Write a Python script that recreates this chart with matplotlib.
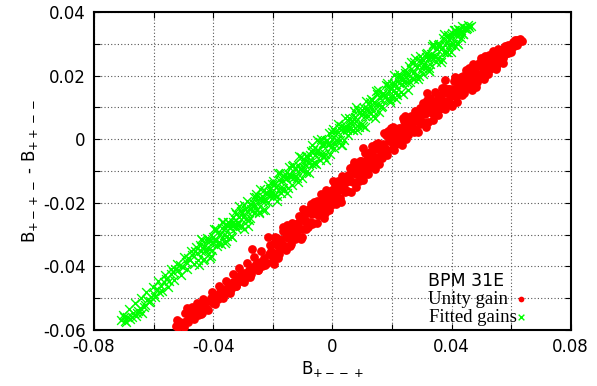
import matplotlib
matplotlib.use('Agg')
import matplotlib.pyplot as plt
from matplotlib.ticker import MultipleLocator

# Unity gain (red dots)
red_x = [
    -0.0525, -0.0518, -0.0510, -0.0505, -0.0498, -0.0490, -0.0480, -0.0475, -0.0468, -0.0460,
    -0.0452, -0.0445, -0.0438, -0.0430, -0.0422, -0.0415, -0.0408, -0.0400, -0.0392, -0.0385,
    -0.0378, -0.0370, -0.0362, -0.0355, -0.0348, -0.0340, -0.0332, -0.0325, -0.0318, -0.0310,
    -0.0302, -0.0295, -0.0288, -0.0280, -0.0272, -0.0265, -0.0258, -0.0250, -0.0242, -0.0235,
    -0.0228, -0.0220, -0.0212, -0.0205, -0.0198, -0.0488, -0.0270, -0.0216,
    -0.0522, -0.0512, -0.0495, -0.0483, -0.0472, -0.0463, -0.0455, -0.0442, -0.0433, -0.0418,
    -0.0405, -0.0395, -0.0382, -0.0368, -0.0358, -0.0345, -0.0335, -0.0322, -0.0312, -0.0298,
    -0.0285, -0.0275, -0.0262, -0.0248, -0.0238, -0.0225, -0.0210,
    -0.0195, -0.0190, -0.0185, -0.0180, -0.0175, -0.0170, -0.0165, -0.0160, -0.0155, -0.0150,
    -0.0145, -0.0140, -0.0135, -0.0130, -0.0125, -0.0120, -0.0115, -0.0110, -0.0105, -0.0100,
    -0.0095, -0.0090, -0.0085, -0.0080, -0.0075, -0.0070, -0.0065, -0.0060, -0.0055, -0.0050,
    -0.0045, -0.0040, -0.0035, -0.0030, -0.0025, -0.0020, -0.0015, -0.0010, -0.0005, 0.0000,
    0.0005, 0.0010, 0.0015, 0.0020, 0.0025, 0.0030, 0.0035, 0.0040, 0.0045, 0.0050,
    0.0055, 0.0060, 0.0065, 0.0070, 0.0075, 0.0080, 0.0085, 0.0090, 0.0095, 0.0100,
    0.0105, 0.0110, 0.0115, 0.0120, 0.0125, 0.0130, 0.0135, 0.0140, 0.0145, 0.0150,
    0.0155, 0.0160, 0.0165, 0.0170, 0.0175, 0.0180, 0.0185, 0.0190, 0.0195, 0.0200,
    0.0205, 0.0210, 0.0215, 0.0220, 0.0225, 0.0230, 0.0235, 0.0240, 0.0245, 0.0250,
    0.0255, 0.0260, 0.0265, 0.0270, 0.0275, 0.0280, 0.0285, 0.0290, 0.0295, 0.0300,
    0.0305, 0.0310, 0.0315, 0.0320, 0.0325, 0.0330, 0.0335, 0.0340, 0.0345, 0.0350,
    0.0355, 0.0360, 0.0365, 0.0370, 0.0375, 0.0380, 0.0385, 0.0390, 0.0395, 0.0400,
    0.0405, 0.0410, 0.0415, 0.0420, 0.0425, 0.0430, 0.0435, 0.0440, 0.0445, 0.0450,
    0.0455, 0.0460, 0.0465, 0.0470, 0.0475, 0.0480, 0.0485, 0.0490, 0.0495, 0.0500,
    0.0505, 0.0510, 0.0515, 0.0520, 0.0525, 0.0530, 0.0535, 0.0540, 0.0545, 0.0550,
    0.0555, 0.0560, 0.0565, 0.0570, 0.0575, 0.0580, 0.0585, 0.0590, 0.0595, 0.0600,
    0.0605, 0.0610, 0.0620, 0.0630, 0.0635,
    0.0102, 0.0317, 0.0377, 0.0572, 0.0102,
    -0.0192, -0.0182, -0.0172, -0.0162, -0.0152, -0.0142, -0.0132, -0.0122, -0.0112, -0.0102,
    -0.0092, -0.0082, -0.0072, -0.0062, -0.0052, -0.0042, -0.0032, -0.0022, -0.0012, -0.0002,
    0.0008, 0.0018, 0.0028, 0.0038, 0.0048, 0.0058, 0.0068, 0.0078, 0.0088, 0.0098,
    0.0108, 0.0118, 0.0128, 0.0138, 0.0148, 0.0158, 0.0168, 0.0178, 0.0188, 0.0198,
    0.0208, 0.0218, 0.0228, 0.0238, 0.0248, 0.0258, 0.0268, 0.0278, 0.0288, 0.0298,
    0.0308, 0.0318, 0.0328, 0.0338, 0.0348, 0.0358, 0.0368, 0.0378, 0.0388, 0.0398,
    0.0408, 0.0418, 0.0428, 0.0438, 0.0448, 0.0458, 0.0468, 0.0478, 0.0488, 0.0498,
    0.0508, 0.0518, 0.0528, 0.0538, 0.0548, 0.0558, 0.0568, 0.0578, 0.0588, 0.0598,
    0.0608, 0.0618,
    -0.0197, -0.0187, -0.0177, -0.0167, -0.0157, -0.0147, -0.0137, -0.0127, -0.0117, -0.0107,
    -0.0097, -0.0087, -0.0077, -0.0067, -0.0057, -0.0047, -0.0037, -0.0027, -0.0017, -0.0007,
    0.0003, 0.0013, 0.0023, 0.0033, 0.0043, 0.0053, 0.0063, 0.0073, 0.0083, 0.0093,
    0.0103, 0.0113, 0.0123, 0.0133, 0.0143, 0.0153, 0.0163, 0.0173, 0.0183, 0.0193,
    0.0203, 0.0213, 0.0223, 0.0233, 0.0243, 0.0253, 0.0263, 0.0273, 0.0283, 0.0293,
    0.0303, 0.0313, 0.0323, 0.0333, 0.0343, 0.0353, 0.0363, 0.0373, 0.0383, 0.0393,
    0.0403, 0.0413, 0.0423, 0.0433, 0.0443, 0.0453, 0.0463, 0.0473, 0.0483, 0.0493,
    0.0503, 0.0513, 0.0523, 0.0533, 0.0543, 0.0553, 0.0563, 0.0573, 0.0583, 0.0593,
    0.0603, 0.0613, 0.0625,
]
red_y = [
    -0.0588, -0.0590, -0.0585, -0.0578, -0.0590, -0.0572, -0.0560, -0.0548, -0.0558, -0.0540,
    -0.0552, -0.0530, -0.0545, -0.0520, -0.0535, -0.0510, -0.0498, -0.0515, -0.0490, -0.0502,
    -0.0482, -0.0470, -0.0488, -0.0468, -0.0455, -0.0472, -0.0450, -0.0462, -0.0440, -0.0428,
    -0.0445, -0.0420, -0.0432, -0.0410, -0.0425, -0.0402, -0.0392, -0.0412, -0.0385, -0.0398,
    -0.0372, -0.0388, -0.0360, -0.0352, -0.0372, -0.0530, -0.0345, -0.0308,
    -0.0570, -0.0575, -0.0547, -0.0575, -0.0529, -0.0565, -0.0515, -0.0549, -0.0501, -0.0537,
    -0.0481, -0.0519, -0.0462, -0.0500, -0.0447, -0.0484, -0.0425, -0.0462, -0.0406, -0.0448,
    -0.0389, -0.0432, -0.0370, -0.0411, -0.0350, -0.0397, -0.0332,
    -0.0325, -0.0357, -0.0333, -0.0361, -0.0317, -0.0331, -0.0290, -0.0335, -0.0304, -0.0310,
    -0.0286, -0.0331, -0.0270, -0.0301, -0.0285, -0.0305, -0.0264, -0.0281, -0.0241, -0.0281,
    -0.0255, -0.0283, -0.0233, -0.0227, -0.0259, -0.0236, -0.0263, -0.0219, -0.0233, -0.0193,
    -0.0237, -0.0206, -0.0212, -0.0189, -0.0233, -0.0172, -0.0203, -0.0188, -0.0207, -0.0166,
    -0.0183, -0.0143, -0.0183, -0.0156, -0.0184, -0.0134, -0.0128, -0.0159, -0.0136, -0.0163,
    -0.0119, -0.0132, -0.0092, -0.0136, -0.0105, -0.0110, -0.0087, -0.0131, -0.0070, -0.0100,
    -0.0085, -0.0104, -0.0063, -0.0079, -0.0040, -0.0079, -0.0053, -0.0080, -0.0031, -0.0024,
    -0.0056, -0.0032, -0.0060, -0.0015, -0.0029, 0.0012, -0.0033, -0.0001, -0.0007, 0.0017,
    -0.0028, 0.0032, 0.0001, 0.0016, -0.0005, 0.0036, 0.0018, 0.0057, 0.0017, 0.0042,
    0.0014, 0.0063, 0.0068, 0.0036, 0.0058, 0.0030, 0.0074, 0.0059, 0.0099, 0.0054,
    0.0084, 0.0078, 0.0100, 0.0055, 0.0116, 0.0084, 0.0099, 0.0079, 0.0119, 0.0102,
    0.0140, 0.0100, 0.0126, 0.0097, 0.0146, 0.0152, 0.0119, 0.0142, 0.0113, 0.0157,
    0.0143, 0.0182, 0.0137, 0.0168, 0.0161, 0.0184, 0.0138, 0.0199, 0.0168, 0.0182,
    0.0162, 0.0203, 0.0185, 0.0224, 0.0183, 0.0209, 0.0181, 0.0229, 0.0235, 0.0203,
    0.0225, 0.0197, 0.0240, 0.0226, 0.0266, 0.0220, 0.0251, 0.0245, 0.0267, 0.0222,
    0.0282, 0.0251, 0.0266, 0.0245, 0.0286, 0.0269, 0.0294, 0.0271, 0.0294, 0.0285,
    0.0306, 0.0294, 0.0311, 0.0316, 0.0309,
    -0.0028, 0.0145, 0.0186, 0.0240, -0.0128,
    -0.0307, -0.0374, -0.0316, -0.0338, -0.0269, -0.0335, -0.0270, -0.0293, -0.0242, -0.0308,
    -0.0253, -0.0277, -0.0203, -0.0197, -0.0263, -0.0206, -0.0227, -0.0159, -0.0224, -0.0160,
    -0.0182, -0.0131, -0.0196, -0.0141, -0.0164, -0.0090, -0.0083, -0.0149, -0.0091, -0.0112,
    -0.0043, -0.0108, -0.0043, -0.0065, -0.0014, -0.0079, -0.0024, -0.0047, 0.0027, 0.0034,
    -0.0033, 0.0023, 0.0000, 0.0068, 0.0001, 0.0064, 0.0040, 0.0090, 0.0023, 0.0076,
    0.0051, 0.0124, 0.0129, 0.0061, 0.0117, 0.0095, 0.0162, 0.0095, 0.0158, 0.0135,
    0.0184, 0.0117, 0.0170, 0.0146, 0.0218, 0.0223, 0.0155, 0.0212, 0.0189, 0.0256,
    0.0189, 0.0253, 0.0229, 0.0278, 0.0227, 0.0265, 0.0250, 0.0294, 0.0297, 0.0274,
    0.0306, 0.0295,
    -0.0391, -0.0310, -0.0343, -0.0277, -0.0349, -0.0305, -0.0262, -0.0313, -0.0262, -0.0313,
    -0.0221, -0.0259, -0.0220, -0.0267, -0.0218, -0.0239, -0.0173, -0.0247, -0.0166, -0.0199,
    -0.0132, -0.0204, -0.0159, -0.0115, -0.0166, -0.0114, -0.0165, -0.0072, -0.0110, -0.0070,
    -0.0117, -0.0067, -0.0088, -0.0021, -0.0095, -0.0013, -0.0046, 0.0021, -0.0051, -0.0006,
    0.0037, -0.0016, 0.0035, -0.0018, 0.0073, 0.0033, 0.0072, 0.0023, 0.0071, 0.0048,
    0.0114, 0.0038, 0.0118, 0.0083, 0.0149, 0.0075, 0.0118, 0.0160, 0.0108, 0.0158,
    0.0105, 0.0196, 0.0157, 0.0195, 0.0146, 0.0194, 0.0172, 0.0237, 0.0165, 0.0241,
    0.0207, 0.0262, 0.0204, 0.0241, 0.0274, 0.0236, 0.0281, 0.0255, 0.0290, 0.0275,
    0.0300, 0.0313, 0.0308,
]

# Fitted gains (green crosses)
green_x = [
    -0.0708, -0.0700, -0.0695, -0.0688, -0.0680, -0.0668, -0.0660, -0.0652, -0.0645, -0.0640,
    -0.0630, -0.0622, -0.0615, -0.0608, -0.0598, -0.0590, -0.0582, -0.0575, -0.0565, -0.0558,
    -0.0550, -0.0543, -0.0535, -0.0527, -0.0518, -0.0510, -0.0500, -0.0492, -0.0485, -0.0478,
    -0.0470, -0.0462, -0.0455,
    -0.0703, -0.0692, -0.0684, -0.0672, -0.0663, -0.0655, -0.0643, -0.0633, -0.0625, -0.0612,
    -0.0603, -0.0594, -0.0585, -0.0572, -0.0562, -0.0553, -0.0540, -0.0530, -0.0522, -0.0507,
    -0.0497, -0.0488, -0.0474, -0.0466, -0.0458,
    -0.0450, -0.0445, -0.0440, -0.0435, -0.0430, -0.0425, -0.0420, -0.0415, -0.0410, -0.0405,
    -0.0400, -0.0395, -0.0390, -0.0385, -0.0380, -0.0375, -0.0370, -0.0365, -0.0360, -0.0355,
    -0.0350, -0.0345, -0.0340, -0.0335, -0.0330, -0.0325, -0.0320, -0.0315, -0.0310, -0.0305,
    -0.0300, -0.0295, -0.0290, -0.0285, -0.0280, -0.0275, -0.0270, -0.0265, -0.0260, -0.0255,
    -0.0250, -0.0245, -0.0240, -0.0235, -0.0230, -0.0225, -0.0220, -0.0215, -0.0210, -0.0205,
    -0.0200, -0.0195, -0.0190, -0.0185, -0.0180, -0.0175, -0.0170, -0.0165, -0.0160, -0.0155,
    -0.0150, -0.0145, -0.0140, -0.0135, -0.0130, -0.0125, -0.0120, -0.0115, -0.0110, -0.0105,
    -0.0100, -0.0095, -0.0090, -0.0085, -0.0080, -0.0075, -0.0070, -0.0065, -0.0060, -0.0055,
    -0.0050, -0.0045, -0.0040, -0.0035, -0.0030, -0.0025, -0.0020, -0.0015, -0.0010, -0.0005,
    0.0000, 0.0005, 0.0010, 0.0015, 0.0020, 0.0025, 0.0030, 0.0035, 0.0040, 0.0045,
    0.0050, 0.0055, 0.0060, 0.0065, 0.0070, 0.0075, 0.0080, 0.0085, 0.0090, 0.0095,
    0.0100, 0.0105, 0.0110, 0.0115, 0.0120, 0.0125, 0.0130, 0.0135, 0.0140, 0.0145,
    0.0150, 0.0155, 0.0160, 0.0165, 0.0170, 0.0175, 0.0180, 0.0185, 0.0190, 0.0195,
    0.0200, 0.0205, 0.0210, 0.0215, 0.0220, 0.0225, 0.0230, 0.0235, 0.0240, 0.0245,
    0.0250, 0.0255, 0.0260, 0.0265, 0.0270, 0.0275, 0.0280, 0.0285, 0.0290, 0.0295,
    0.0300, 0.0305, 0.0310, 0.0315, 0.0320, 0.0325, 0.0330, 0.0335, 0.0340, 0.0345,
    0.0350, 0.0355, 0.0360, 0.0365, 0.0370, 0.0375, 0.0380, 0.0385, 0.0390, 0.0395,
    0.0400, 0.0405, 0.0410, 0.0415, 0.0420, 0.0425, 0.0430, 0.0435, 0.0440, 0.0445,
    0.0450, 0.0460, 0.0465,
    0.0398, 0.0324,
    -0.0447, -0.0437, -0.0427, -0.0417, -0.0407, -0.0397, -0.0387, -0.0377, -0.0367, -0.0357,
    -0.0347, -0.0337, -0.0327, -0.0317, -0.0307, -0.0297, -0.0287, -0.0277, -0.0267, -0.0257,
    -0.0247, -0.0237, -0.0227, -0.0217, -0.0207, -0.0197, -0.0187, -0.0177, -0.0167, -0.0157,
    -0.0147, -0.0137, -0.0127, -0.0117, -0.0107, -0.0097, -0.0087, -0.0077, -0.0067, -0.0057,
    -0.0047, -0.0037, -0.0027, -0.0017, -0.0007, 0.0003, 0.0013, 0.0023, 0.0033, 0.0043,
    0.0053, 0.0063, 0.0073, 0.0083, 0.0093, 0.0103, 0.0113, 0.0123, 0.0133, 0.0143,
    0.0153, 0.0163, 0.0173, 0.0183, 0.0193, 0.0203, 0.0213, 0.0223, 0.0233, 0.0243,
    0.0253, 0.0263, 0.0273, 0.0283, 0.0293, 0.0303, 0.0313, 0.0323, 0.0333, 0.0343,
    0.0353, 0.0363, 0.0373, 0.0383, 0.0393, 0.0403, 0.0413, 0.0423, 0.0433, 0.0443,
    0.0453,
    -0.0442, -0.0432, -0.0422, -0.0412, -0.0402, -0.0392, -0.0382, -0.0372, -0.0362, -0.0352,
    -0.0342, -0.0332, -0.0322, -0.0312, -0.0302, -0.0292, -0.0282, -0.0272, -0.0262, -0.0252,
    -0.0242, -0.0232, -0.0222, -0.0212, -0.0202, -0.0192, -0.0182, -0.0172, -0.0162, -0.0152,
    -0.0142, -0.0132, -0.0122, -0.0112, -0.0102, -0.0092, -0.0082, -0.0072, -0.0062, -0.0052,
    -0.0042, -0.0032, -0.0022, -0.0012, -0.0002, 0.0008, 0.0018, 0.0028, 0.0038, 0.0048,
    0.0058, 0.0068, 0.0078, 0.0088, 0.0098, 0.0108, 0.0118, 0.0128, 0.0138, 0.0148,
    0.0158, 0.0168, 0.0178, 0.0188, 0.0198, 0.0208, 0.0218, 0.0228, 0.0238, 0.0248,
    0.0258, 0.0268, 0.0278, 0.0288, 0.0298, 0.0308, 0.0318, 0.0328, 0.0338, 0.0348,
    0.0358, 0.0368, 0.0378, 0.0388, 0.0398, 0.0408, 0.0418, 0.0428, 0.0438, 0.0455,
]
green_y = [
    -0.0568, -0.0560, -0.0572, -0.0558, -0.0565, -0.0548, -0.0555, -0.0540, -0.0530, -0.0545,
    -0.0520, -0.0505, -0.0512, -0.0495, -0.0488, -0.0470, -0.0480, -0.0462, -0.0450, -0.0438,
    -0.0445, -0.0425, -0.0418, -0.0408, -0.0412, -0.0395, -0.0402, -0.0385, -0.0372, -0.0380,
    -0.0365, -0.0350, -0.0358,
    -0.0553, -0.0576, -0.0533, -0.0558, -0.0514, -0.0546, -0.0500, -0.0529, -0.0480, -0.0509,
    -0.0464, -0.0497, -0.0446, -0.0477, -0.0427, -0.0464, -0.0407, -0.0442, -0.0393, -0.0426,
    -0.0371, -0.0409, -0.0350, -0.0393, -0.0339,
    -0.0380, -0.0334, -0.0351, -0.0379, -0.0335, -0.0346, -0.0311, -0.0346, -0.0321, -0.0348,
    -0.0306, -0.0319, -0.0283, -0.0327, -0.0301, -0.0328, -0.0278, -0.0302, -0.0278, -0.0305,
    -0.0259, -0.0276, -0.0304, -0.0260, -0.0271, -0.0236, -0.0271, -0.0246, -0.0273, -0.0231,
    -0.0244, -0.0208, -0.0252, -0.0226, -0.0253, -0.0203, -0.0227, -0.0202, -0.0229, -0.0183,
    -0.0200, -0.0228, -0.0184, -0.0195, -0.0160, -0.0195, -0.0171, -0.0198, -0.0156, -0.0169,
    -0.0133, -0.0177, -0.0151, -0.0178, -0.0128, -0.0152, -0.0127, -0.0154, -0.0108, -0.0125,
    -0.0153, -0.0109, -0.0120, -0.0085, -0.0120, -0.0095, -0.0122, -0.0080, -0.0093, -0.0057,
    -0.0101, -0.0075, -0.0102, -0.0052, -0.0076, -0.0051, -0.0079, -0.0033, -0.0050, -0.0078,
    -0.0034, -0.0045, -0.0010, -0.0045, -0.0020, -0.0047, -0.0005, -0.0018, 0.0018, -0.0026,
    0.0000, -0.0027, 0.0023, -0.0001, 0.0024, -0.0003, 0.0043, 0.0026, -0.0002, 0.0042,
    0.0031, 0.0066, 0.0031, 0.0056, 0.0029, 0.0071, 0.0057, 0.0093, 0.0049, 0.0075,
    0.0048, 0.0098, 0.0074, 0.0099, 0.0072, 0.0118, 0.0101, 0.0073, 0.0117, 0.0106,
    0.0141, 0.0106, 0.0131, 0.0104, 0.0146, 0.0133, 0.0169, 0.0125, 0.0151, 0.0124,
    0.0174, 0.0150, 0.0175, 0.0148, 0.0194, 0.0176, 0.0148, 0.0192, 0.0181, 0.0216,
    0.0181, 0.0206, 0.0179, 0.0221, 0.0208, 0.0244, 0.0200, 0.0226, 0.0199, 0.0249,
    0.0225, 0.0250, 0.0223, 0.0269, 0.0252, 0.0224, 0.0268, 0.0257, 0.0292, 0.0257,
    0.0282, 0.0255, 0.0297, 0.0283, 0.0319, 0.0275, 0.0301, 0.0274, 0.0324, 0.0300,
    0.0325, 0.0298, 0.0344, 0.0327, 0.0299, 0.0343, 0.0332, 0.0356, 0.0332, 0.0350,
    0.0345, 0.0352, 0.0356,
    0.0274, 0.0214,
    -0.0397, -0.0318, -0.0350, -0.0315, -0.0368, -0.0281, -0.0336, -0.0297, -0.0260, -0.0319,
    -0.0265, -0.0309, -0.0230, -0.0262, -0.0227, -0.0281, -0.0194, -0.0249, -0.0210, -0.0173,
    -0.0232, -0.0178, -0.0222, -0.0143, -0.0175, -0.0140, -0.0193, -0.0106, -0.0161, -0.0123,
    -0.0086, -0.0145, -0.0091, -0.0135, -0.0056, -0.0088, -0.0053, -0.0106, -0.0019, -0.0074,
    -0.0035, 0.0002, -0.0057, -0.0003, -0.0048, 0.0031, -0.0001, 0.0034, -0.0019, 0.0068,
    0.0013, 0.0052, 0.0089, 0.0030, 0.0084, 0.0040, 0.0119, 0.0087, 0.0122, 0.0068,
    0.0155, 0.0100, 0.0139, 0.0176, 0.0117, 0.0171, 0.0127, 0.0206, 0.0174, 0.0209,
    0.0156, 0.0243, 0.0188, 0.0226, 0.0263, 0.0204, 0.0258, 0.0214, 0.0293, 0.0261,
    0.0296, 0.0243, 0.0330, 0.0275, 0.0314, 0.0335, 0.0292, 0.0345, 0.0318, 0.0351,
    0.0349,
    -0.0313, -0.0376, -0.0321, -0.0375, -0.0322, -0.0286, -0.0323, -0.0260, -0.0327, -0.0272,
    -0.0279, -0.0244, -0.0280, -0.0209, -0.0272, -0.0218, -0.0272, -0.0219, -0.0183, -0.0220,
    -0.0157, -0.0224, -0.0169, -0.0176, -0.0141, -0.0177, -0.0106, -0.0169, -0.0115, -0.0169,
    -0.0116, -0.0080, -0.0117, -0.0054, -0.0121, -0.0066, -0.0073, -0.0038, -0.0074, -0.0003,
    -0.0066, -0.0011, -0.0065, -0.0013, 0.0023, -0.0014, 0.0049, -0.0018, 0.0037, 0.0030,
    0.0065, 0.0029, 0.0100, 0.0037, 0.0092, 0.0038, 0.0091, 0.0127, 0.0089, 0.0152,
    0.0085, 0.0140, 0.0133, 0.0168, 0.0132, 0.0203, 0.0140, 0.0195, 0.0141, 0.0194,
    0.0230, 0.0193, 0.0256, 0.0188, 0.0243, 0.0236, 0.0271, 0.0235, 0.0298, 0.0243,
    0.0298, 0.0252, 0.0297, 0.0328, 0.0296, 0.0344, 0.0302, 0.0344, 0.0330, 0.0358,
]

x_ticks = [-0.08, -0.04, 0, 0.04, 0.08]
y_ticks = [-0.06, -0.04, -0.02, 0, 0.02, 0.04]
x_labels = ['-0.08', '-0.04', '0', '0.04', '0.08']
y_labels = ['-0.06', '-0.04', '-0.02', '0', '0.02', '0.04']

plt.rcParams['font.family'] = 'DejaVu Sans'
fig = plt.figure(figsize=(5.97, 3.86), dpi=100)
ax = fig.add_axes([0.1575, 0.145, 0.7985, 0.824])

# trailing spaces keep both legend texts starting at the same x
ax.scatter(red_x, red_y, s=40, color='#ff0000', marker='o', linewidths=0,
           label='Unity gain \u2009', zorder=3)
ax.scatter(green_x, green_y, s=40, color='#00ff00', marker='x', linewidths=1.0,
           label='Fitted gains', zorder=2)

ax.set_xlim(-0.08, 0.08)
ax.set_ylim(-0.06, 0.04)
ax.set_xticks(x_ticks)
ax.set_xticklabels(x_labels)
ax.set_yticks(y_ticks)
ax.set_yticklabels(y_labels)
ax.xaxis.set_minor_locator(MultipleLocator(0.02))
ax.yaxis.set_minor_locator(MultipleLocator(0.01))
ax.grid(True, which='both', linestyle=(0, (1, 2)), color='#555555', linewidth=0.8)
ax.tick_params(which='both', direction='in', top=True, right=True, labelsize=12,
               length=4, width=0.8, pad=6)
for sp in ax.spines.values():
    sp.set_linewidth(1.5)

ax.set_xlabel('B$_{+--+}$', fontsize=12, labelpad=2)
ax.set_ylabel('B$_{+-+-}$ - B$_{++--}$', fontsize=12, labelpad=2)

leg = ax.legend(loc='lower right', bbox_to_anchor=(0.922, -0.01), borderaxespad=0,
                markerfirst=False, frameon=False, title='BPM 31E',
                prop={'family': ['Liberation Serif', 'DejaVu Serif'], 'size': 13.5},
                title_fontsize=12.5, alignment='left', handletextpad=0.0,
                handlelength=0.5, labelspacing=0.05, markerscale=0.65)
leg.set_zorder(5)

fig.savefig('out.png', dpi=100)
